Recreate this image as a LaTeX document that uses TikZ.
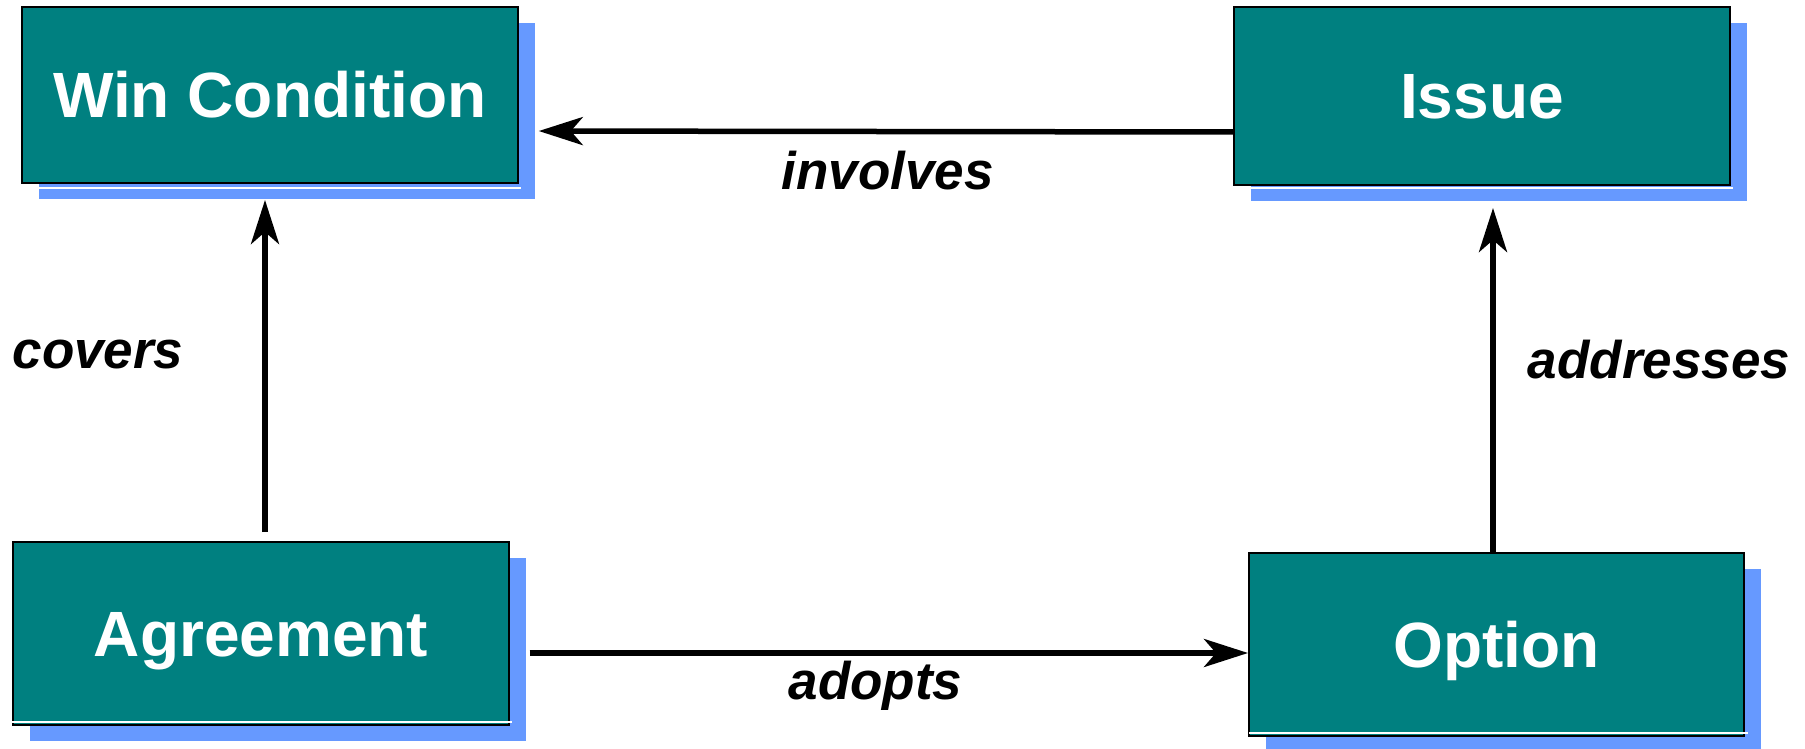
\documentclass[tikz,border=0pt]{standalone}
\usepackage{fontspec}
\setmainfont{Liberation Sans}
\usetikzlibrary{shadows,arrows.meta}
\definecolor{boxteal}{RGB}{0,128,128}
\definecolor{shadowblue}{RGB}{102,153,255}
\begin{document}
\begin{tikzpicture}[x=1pt,y=-1pt,
  entity/.style={draw=black, line width=2pt, fill=boxteal, text=white,
    font=\bfseries\fontsize{64}{70}\selectfont,
    text height=46pt, text depth=0pt, inner sep=0pt,
    drop shadow={shadow xshift=17pt, shadow yshift=-16pt, fill=shadowblue, opacity=1}},
  gleam/.style={draw=white, line width=1.5pt},
  link/.style={line width=5.5pt, -{Stealth[length=44pt, width=28pt, inset=12pt]}},
  rel/.style={font=\bfseries\itshape\fontsize{53}{60}\selectfont, inner sep=0pt}
]
\useasboundingbox (0,0) rectangle (1805,749);

% entity boxes
\node[entity, minimum width=496pt, minimum height=176pt] (win) at (269.75,95) {Win Condition};
\node[entity, minimum width=496pt, minimum height=178pt] (iss) at (1482,96) {Issue};
\node[entity, minimum width=496pt, minimum height=183pt] (agr) at (261,633.5) {Agreement};
\node[entity, minimum width=495pt, minimum height=183pt] (opt) at (1496.5,644.5) {Option};

% thin highlight lines along the bottom edges
\draw[gleam] ([xshift=16pt,yshift=-4pt]win.south west) -- ([xshift=2pt,yshift=-4pt]win.south east);
\draw[gleam] ([yshift=-2pt]iss.south west) -- ([xshift=1.5pt,yshift=-2pt]iss.south east);
\draw[gleam] ([yshift=4pt]agr.south west) -- ([xshift=2pt,yshift=4pt]agr.south east);
\draw[gleam] ([xshift=1pt,yshift=4pt]opt.south west) -- ([xshift=3pt,yshift=4pt]opt.south east);

% relationships
\draw[link, shorten >=20pt] ([yshift=-36pt]iss.west) -- ([yshift=-36pt]win.east);
\draw[link, shorten >=16pt] ([xshift=4pt,yshift=9pt]agr.north) -- ([xshift=-4.75pt]win.south);
\draw[link, shorten <=19.5pt] ([yshift=-19.5pt]agr.east) -- ([yshift=-8.5pt]opt.west);
\draw[link, shorten >=22pt] ([xshift=-3.5pt]opt.north) -- ([xshift=11pt]iss.south);

% relationship labels
\node[rel] (linv) at (887.5,170.5) {involves};
\node[rel] (lcov) at (98,354.5) {covers};
\node[rel] (ladd) at (1659,360) {addresses};
\node[rel] (ladp) at (875.5,685.5) {adopts};
\end{tikzpicture}
\end{document}
